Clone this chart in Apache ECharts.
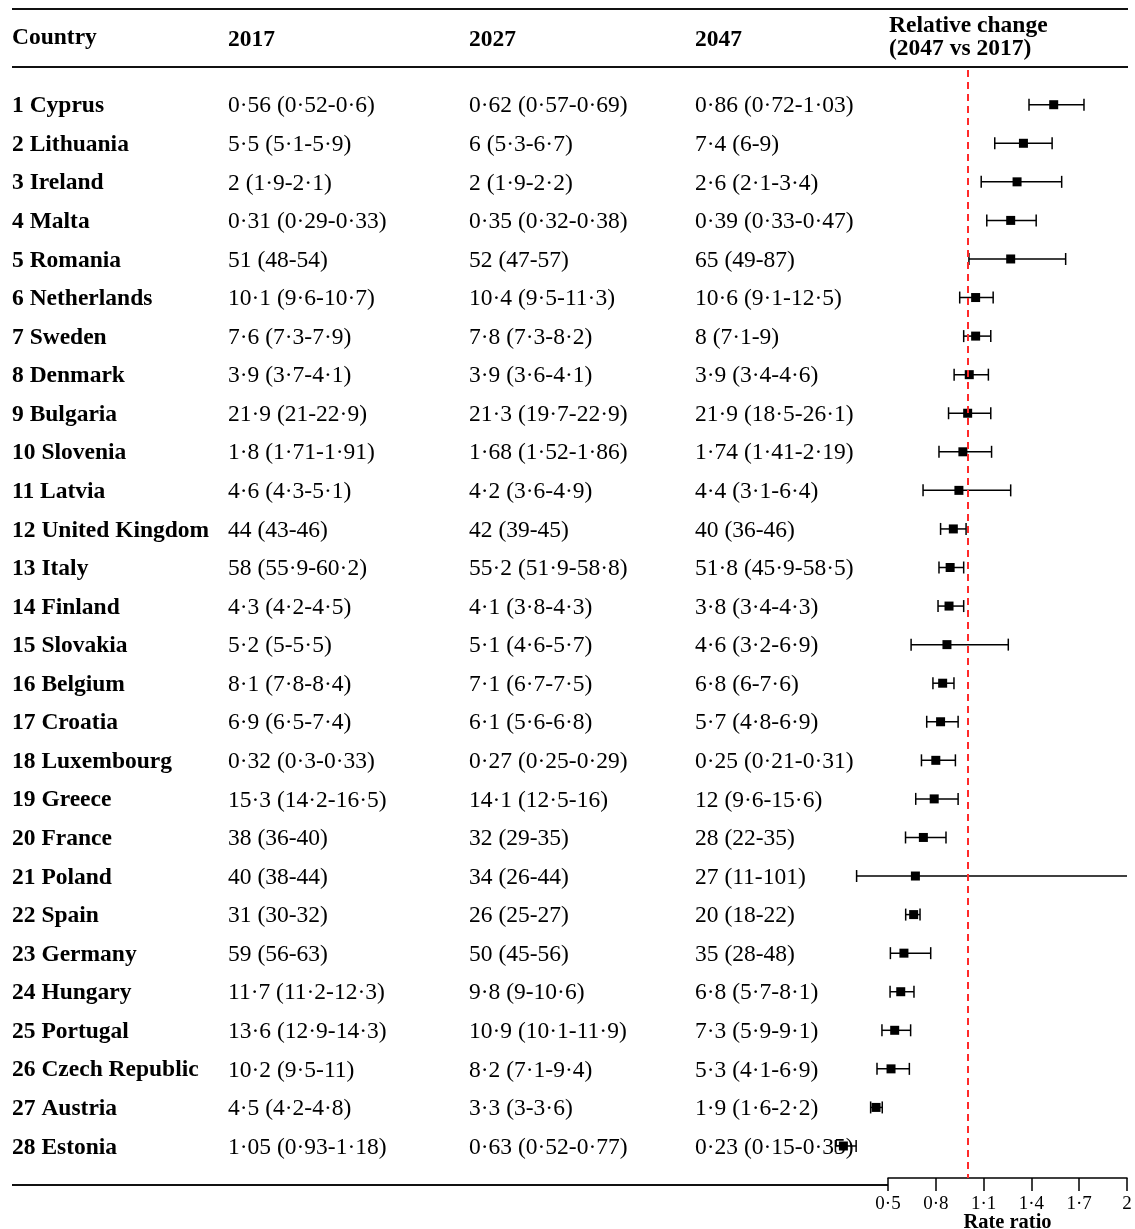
<!DOCTYPE html>
<html>
<head>
<meta charset="utf-8">
<script src="https://cdn.jsdelivr.net/npm/echarts@6/dist/echarts.min.js"></script>
<style>
  html, body { margin: 0; padding: 0; background: #fff; }
  #chart { width: 1135px; height: 1229px; }
</style>
</head>
<body>
<div id="chart"></div>
<script>
// Countries, ranked by relative change in rate
const countries = [
  'Cyprus', 'Lithuania', 'Ireland', 'Malta', 'Romania', 'Netherlands', 'Sweden',
  'Denmark', 'Bulgaria', 'Slovenia', 'Latvia', 'United Kingdom', 'Italy', 'Finland',
  'Slovakia', 'Belgium', 'Croatia', 'Luxembourg', 'Greece', 'France', 'Poland',
  'Spain', 'Germany', 'Hungary', 'Portugal', 'Czech Republic', 'Austria', 'Estonia'
];

// Estimate, lower and upper bound per year
const val2017 = [
  [0.56, 0.52, 0.6], [5.5, 5.1, 5.9], [2, 1.9, 2.1], [0.31, 0.29, 0.33], [51, 48, 54],
  [10.1, 9.6, 10.7], [7.6, 7.3, 7.9], [3.9, 3.7, 4.1], [21.9, 21, 22.9], [1.8, 1.71, 1.91],
  [4.6, 4.3, 5.1], [44, 43, 46], [58, 55.9, 60.2], [4.3, 4.2, 4.5], [5.2, 5, 5.5],
  [8.1, 7.8, 8.4], [6.9, 6.5, 7.4], [0.32, 0.3, 0.33], [15.3, 14.2, 16.5], [38, 36, 40],
  [40, 38, 44], [31, 30, 32], [59, 56, 63], [11.7, 11.2, 12.3], [13.6, 12.9, 14.3],
  [10.2, 9.5, 11], [4.5, 4.2, 4.8], [1.05, 0.93, 1.18]
];
const val2027 = [
  [0.62, 0.57, 0.69], [6, 5.3, 6.7], [2, 1.9, 2.2], [0.35, 0.32, 0.38], [52, 47, 57],
  [10.4, 9.5, 11.3], [7.8, 7.3, 8.2], [3.9, 3.6, 4.1], [21.3, 19.7, 22.9], [1.68, 1.52, 1.86],
  [4.2, 3.6, 4.9], [42, 39, 45], [55.2, 51.9, 58.8], [4.1, 3.8, 4.3], [5.1, 4.6, 5.7],
  [7.1, 6.7, 7.5], [6.1, 5.6, 6.8], [0.27, 0.25, 0.29], [14.1, 12.5, 16], [32, 29, 35],
  [34, 26, 44], [26, 25, 27], [50, 45, 56], [9.8, 9, 10.6], [10.9, 10.1, 11.9],
  [8.2, 7.1, 9.4], [3.3, 3, 3.6], [0.63, 0.52, 0.77]
];
const val2047 = [
  [0.86, 0.72, 1.03], [7.4, 6, 9], [2.6, 2.1, 3.4], [0.39, 0.33, 0.47], [65, 49, 87],
  [10.6, 9.1, 12.5], [8, 7.1, 9], [3.9, 3.4, 4.6], [21.9, 18.5, 26.1], [1.74, 1.41, 2.19],
  [4.4, 3.1, 6.4], [40, 36, 46], [51.8, 45.9, 58.5], [3.8, 3.4, 4.3], [4.6, 3.2, 6.9],
  [6.8, 6, 7.6], [5.7, 4.8, 6.9], [0.25, 0.21, 0.31], [12, 9.6, 15.6], [28, 22, 35],
  [27, 11, 101], [20, 18, 22], [35, 28, 48], [6.8, 5.7, 8.1], [7.3, 5.9, 9.1],
  [5.3, 4.1, 6.9], [1.9, 1.6, 2.2], [0.23, 0.15, 0.35]
];

// Rate ratio 2047 vs 2017 with its interval
const ratio = [
  1.54, 1.35, 1.31, 1.27, 1.27, 1.05, 1.05, 1.01, 1.0, 0.97, 0.945, 0.91, 0.89, 0.883,
  0.87, 0.843, 0.83, 0.80, 0.79, 0.722, 0.672, 0.661, 0.60, 0.58, 0.542, 0.519, 0.425, 0.22
];
const ratioLow = [
  1.385, 1.17, 1.085, 1.12, 1.008, 0.95, 0.975, 0.915, 0.88, 0.82, 0.72, 0.83, 0.82, 0.814,
  0.645, 0.782, 0.743, 0.71, 0.674, 0.61, 0.303, 0.611, 0.515, 0.513, 0.462, 0.431, 0.391, 0.17
];
const ratioHigh = [
  1.73, 1.53, 1.59, 1.43, 1.615, 1.16, 1.145, 1.13, 1.145, 1.15, 1.27, 0.99, 0.975, 0.975,
  1.255, 0.914, 0.94, 0.923, 0.94, 0.864, 2.5, 0.701, 0.768, 0.663, 0.642, 0.634, 0.464, 0.30
];

// Rate ratio axis
const xTicks = { min: 0.5, max: 2, interval: 0.3 };

const SERIF = '"Liberation Serif", "Times New Roman", serif';
const FS = 23.5;
const COL = { country: 12, y2017: 228, y2027: 469, y2047: 695 };
const TEXT_SHIFT = 1.5;

const fmt = n => String(n).replace('.', '\u00B7');
const cell = t => fmt(t[0]) + ' (' + fmt(t[1]) + '-' + fmt(t[2]) + ')';

const tableData = countries.map((c, i) => [xTicks.min, i + 1]);
const forestData = countries.map((c, i) => [ratio[i], i + 1, ratioLow[i], ratioHigh[i]]);

const chart = echarts.init(document.getElementById('chart'), null, { renderer: 'canvas' });

chart.setOption({
  backgroundColor: '#ffffff',
  animation: false,
  grid: {
    left: 888, right: 8, top: 70, bottom: 51,
    containLabel: false,
    outerBoundsMode: 'none'
  },
  xAxis: {
    type: 'value',
    min: xTicks.min,
    max: xTicks.max,
    interval: xTicks.interval,
    name: 'Rate ratio',
    nameLocation: 'middle',
    nameGap: 34,
    nameMoveOverlap: false,
    nameTextStyle: { fontFamily: SERIF, fontWeight: 'bold', fontSize: 20.5, color: '#000' },
    axisLine: { show: true, lineStyle: { color: '#000', width: 1.5 } },
    axisTick: { show: true, length: 13, lineStyle: { color: '#000', width: 1.5 } },
    axisLabel: {
      margin: 17, fontFamily: SERIF, fontSize: 19, color: '#000',
      formatter: v => fmt(Math.round(v * 10) / 10)
    },
    splitLine: { show: false }
  },
  yAxis: {
    type: 'value',
    inverse: true,
    min: 0.1,
    max: 28.83,
    show: false
  },
  series: [
    {
      // Table of country names and yearly estimates
      type: 'custom',
      clip: false,
      silent: true,
      data: tableData,
      encode: { x: 0, y: 1 },
      renderItem: (params, api) => {
        const i = params.dataIndex;
        const y = api.coord([api.value(0), api.value(1)])[1] + TEXT_SHIFT;
        const txt = (x, s, bold) => ({
          type: 'text',
          style: {
            x: x, y: y, text: s,
            fontFamily: SERIF, fontSize: FS,
            fontWeight: bold ? 'bold' : 'normal',
            fill: '#000', textAlign: 'left', textVerticalAlign: 'middle'
          }
        });
        return {
          type: 'group',
          children: [
            txt(COL.country, (i + 1) + ' ' + countries[i], true),
            txt(COL.y2017, cell(val2017[i]), false),
            txt(COL.y2027, cell(val2027[i]), false),
            txt(COL.y2047, cell(val2047[i]), false)
          ]
        };
      }
    },
    {
      // Rate ratio with interval per country
      type: 'custom',
      clip: false,
      silent: true,
      data: forestData,
      encode: { x: 0, y: 1 },
      renderItem: (params, api) => {
        const row = api.value(1);
        const est = api.value(0), lo = api.value(2), hi = api.value(3);
        const hiShown = Math.min(hi, xTicks.max);
        const pE = api.coord([est, row]);
        const pL = api.coord([lo, row]);
        const pH = api.coord([hiShown, row]);
        const cap = 6, half = 4.5;
        const stroke = { stroke: '#000', lineWidth: 1.5 };
        const children = [
          { type: 'line', shape: { x1: pL[0], y1: pL[1], x2: pH[0], y2: pH[1] }, style: stroke },
          { type: 'line', shape: { x1: pL[0], y1: pL[1] - cap, x2: pL[0], y2: pL[1] + cap }, style: stroke }
        ];
        if (hi <= xTicks.max) {
          children.push({ type: 'line', shape: { x1: pH[0], y1: pH[1] - cap, x2: pH[0], y2: pH[1] + cap }, style: stroke });
        }
        children.push({
          type: 'rect',
          shape: { x: pE[0] - half, y: pE[1] - half, width: half * 2, height: half * 2 },
          style: { fill: '#000' }
        });
        return { type: 'group', children: children };
      },
      markLine: {
        silent: true,
        symbol: 'none',
        label: { show: false },
        lineStyle: { color: '#ff2a2a', width: 2, type: [7, 5] },
        data: [{ xAxis: 1 }]
      }
    }
  ],
  graphic: [
    { type: 'line', shape: { x1: 12, y1: 9, x2: 1128, y2: 9 }, style: { stroke: '#111', lineWidth: 2 } },
    { type: 'line', shape: { x1: 12, y1: 67, x2: 1128, y2: 67 }, style: { stroke: '#111', lineWidth: 2 } },
    { type: 'line', shape: { x1: 12, y1: 1185, x2: 888, y2: 1185 }, style: { stroke: '#111', lineWidth: 2 } },
    { type: 'text', style: { x: 12, y: 38, text: 'Country', fontFamily: SERIF, fontSize: FS, fontWeight: 'bold', fill: '#000', textVerticalAlign: 'middle' } },
    { type: 'text', style: { x: 228, y: 40, text: '2017', fontFamily: SERIF, fontSize: FS, fontWeight: 'bold', fill: '#000', textVerticalAlign: 'middle' } },
    { type: 'text', style: { x: 469, y: 40, text: '2027', fontFamily: SERIF, fontSize: FS, fontWeight: 'bold', fill: '#000', textVerticalAlign: 'middle' } },
    { type: 'text', style: { x: 695, y: 40, text: '2047', fontFamily: SERIF, fontSize: FS, fontWeight: 'bold', fill: '#000', textVerticalAlign: 'middle' } },
    { type: 'text', style: { x: 889, y: 26, text: 'Relative change', fontFamily: SERIF, fontSize: FS, fontWeight: 'bold', fill: '#000', textVerticalAlign: 'middle' } },
    { type: 'text', style: { x: 889, y: 49, text: '(2047 vs 2017)', fontFamily: SERIF, fontSize: FS, fontWeight: 'bold', fill: '#000', textVerticalAlign: 'middle' } }
  ]
});
</script>
</body>
</html>
